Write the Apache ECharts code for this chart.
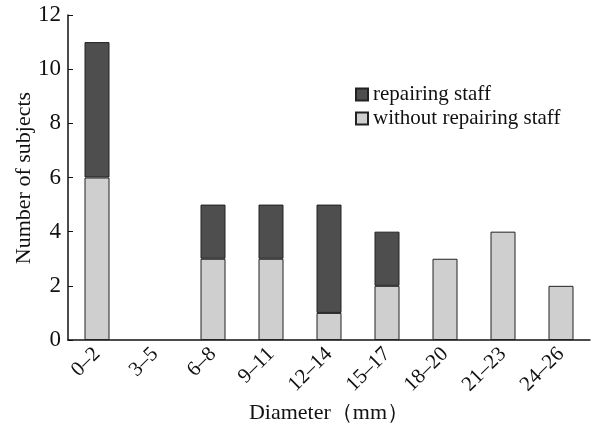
<!DOCTYPE html>
<html><head><meta charset="utf-8">
<script src="https://cdn.jsdelivr.net/npm/echarts@6/dist/echarts.min.js"></script>
<style>html,body{margin:0;padding:0;background:#fff}#c{width:598px;height:427px}</style>
</head><body><div id="c"></div>
<script>
const categories = ['0–2','3–5','6–8','9–11','12–14','15–17','18–20','21–23','24–26'];
const withoutStaff = [6,0,3,3,1,2,3,4,2];
const repairingStaff = [5,0,2,2,4,2,0,0,0];
const yTicks = {min:0, max:12, interval:2};
const yTitle = 'Number of subjects';
const font = 'Liberation Serif';
const hideZero = arr => arr.map(v => v === 0 ? '-' : v);
const chart = echarts.init(document.getElementById('c'));
chart.setOption({
  animation:false,
  grid:{left:68,right:8,top:15,bottom:87,outerBoundsMode:'none',containLabel:false},
  graphic:[{
    type:'text', x:24, y:178, rotation:Math.PI/2,
    style:{text:yTitle, font:'22px "Liberation Serif"', fill:'#111', align:'center', verticalAlign:'middle'}
  }],
  legend:{
    orient:'vertical', left:350, top:79, itemWidth:12, itemHeight:12, itemGap:3,
    icon:'rect',
    data:['repairing staff','without repairing staff'],
    textStyle:{fontFamily:font,fontSize:21,color:'#111'}
  },
  xAxis:{
    type:'category', data:categories,
    name:'Diameter（mm）', nameLocation:'middle', nameGap:60,
    nameTextStyle:{fontFamily:font,fontSize:22,color:'#111'},
    axisLine:{lineStyle:{color:'#111',width:1.5}},
    axisTick:{inside:true,length:5,lineStyle:{color:'#111'}},
    axisLabel:{rotate:45,fontFamily:font,fontSize:21,color:'#111',margin:11}
  },
  yAxis:{
    type:'value', min:yTicks.min, max:yTicks.max, interval:yTicks.interval,
    splitLine:{show:false},
    axisLine:{show:true,lineStyle:{color:'#111',width:1.5}},
    axisTick:{show:true,inside:true,length:5,lineStyle:{color:'#111'}},
    axisLabel:{fontFamily:font,fontSize:23,color:'#111',margin:7}
  },
  series:[
    {name:'without repairing staff',type:'bar',stack:'a',data:hideZero(withoutStaff),barWidth:25,
     itemStyle:{color:'#cfcfcf',borderColor:'#222',borderWidth:1}},
    {name:'repairing staff',type:'bar',stack:'a',data:hideZero(repairingStaff),barWidth:25,
     itemStyle:{color:'#4e4e4e',borderColor:'#222',borderWidth:1}}
  ]
});
</script></body></html>
